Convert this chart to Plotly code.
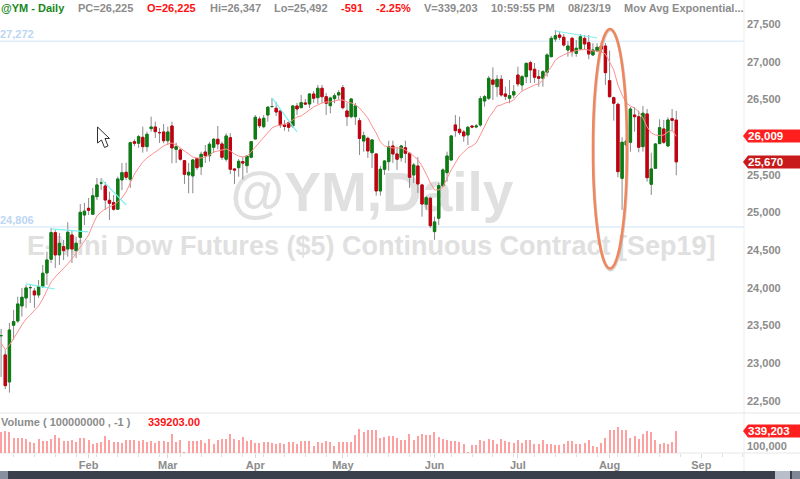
import plotly.graph_objects as go

open_ = [23364,23108,22749,23502,23559,23758,23864,24001,23957,23904,24014,24196,24378,24731,24435,24545,24514,24700,24492,24669,
24965,25054,24975,25208,25390,25350,25160,25129,25041,25430,25532,25439,25938,25917,25996,25872,26111,26133,26058,26067,
25951,26146,25837,25828,25686,25496,25483,25713,25606,25801,25752,25864,25970,25908,25705,25991,25576,25593,25673,25620,
25731,25974,26239,26137,26292,26405,26381,26346,26160,26190,26146,26412,26389,26452,26438,26571,26522,26647,26535,26416,
26509,26558,26655,26346,26270,26270,26217,25947,25983,25792,25775,25284,25572,25673,25881,25775,25726,25858,25784,25496,
25616,25364,25107,25187,24744,24922,25354,25527,25695,26160,26103,26067,26027,26146,26133,26160,26478,26514,26757,26668,
26766,26571,26514,26558,26823,26691,26801,26986,26899,26801,26779,26859,27066,27301,27354,27324,27155,27310,27111,27168,
27310,27252,27089,27142,27208,27208,26748,26522,26434,25452,25894,25930,26292,26270,25872,26306,25373,25585,25912,26107,
25881,26243,26225]
high = [23453,23170,23532,23705,23881,23997,24037,24037,23997,24103,24302,24478,24793,24766,24727,24634,24869,24766,24677,25111,
25125,25191,25324,25456,25456,25403,25275,25231,25474,25655,25659,25938,25970,26027,26137,26071,26270,26204,26120,26173,
26137,26204,25925,25850,25695,25655,25709,25722,25805,25894,25938,25987,26146,25938,26050,26050,25589,25709,25739,25762,
25947,26292,26270,26292,26412,26518,26465,26372,26226,26204,26425,26452,26558,26505,26584,26611,26691,26691,26584,26535,
26580,26624,26691,26452,26518,26452,26253,26071,26005,25974,25788,25616,25695,25951,25951,25872,25894,25951,25801,25655,
25735,25380,25218,25208,24943,25390,25585,25805,26020,26292,26270,26093,26146,26160,26173,26545,26558,26810,26925,26823,
26823,26668,26757,26691,26933,26823,26986,27013,26982,26890,26890,27111,27341,27420,27398,27367,27274,27331,27288,27367,
27354,27354,27244,27244,27261,27248,27146,26535,26456,25996,26040,26399,26395,26350,26412,26372,25792,25917,26235,26226,
26262,26372,26347]
low = [22816,22656,22607,23307,23532,23616,23731,23798,23731,23864,23997,24037,24328,24262,24302,24368,24412,24328,24395,24583,
24833,24965,24965,25164,25297,25031,24899,25023,25031,25297,25430,25324,25881,25855,25792,25805,26071,25987,25921,25917,
25894,25651,25655,25686,25377,25253,25253,25563,25496,25655,25673,25788,25837,25695,25673,25509,25377,25474,25439,25523,
25718,25970,26120,26116,26204,26385,26279,26120,26084,26071,26120,26292,26385,26425,26385,26452,26438,26448,26292,26315,
26448,26492,26368,26146,26249,26160,25762,25805,25722,25589,25222,25222,25496,25553,25655,25563,25673,25655,25324,25390,
25257,24943,25032,24793,24634,24833,25341,25407,25686,26004,26027,25938,25894,26116,26116,26137,26403,26491,26491,26535,
26535,26491,26448,26514,26668,26615,26713,26717,26717,26668,26668,26801,27058,27265,27288,27199,27066,27066,27066,27155,
27155,27032,27075,27132,27128,26691,26525,26217,25466,25032,25394,25805,26071,25797,25805,25407,25231,25580,25908,25908,
25872,26071,25492]
close = [23364,22700,23439,23550,23784,23873,23997,24001,23904,24014,24192,24368,24731,24435,24590,24492,24736,24514,24590,25001,
25016,25028,25221,25364,25390,25164,25121,25041,25443,25527,25466,25925,25917,26004,25872,26036,26133,26071,26058,25951,
26067,25855,25872,25705,25505,25532,25695,25593,25771,25752,25904,25970,25908,25731,26014,25572,25563,25678,25655,25748,
25938,26262,26150,26249,26395,26405,26332,26160,26140,26129,26412,26372,26456,26438,26571,26514,26647,26535,26448,26518,
26549,26588,26389,26270,26505,26412,25981,26018,25815,25961,25284,25572,25682,25872,25775,25705,25881,25784,25466,25629,
25377,25111,25195,24823,24873,25354,25563,25748,26014,26084,26058,26014,26129,26133,26146,26509,26535,26779,26700,26766,
26558,26541,26549,26602,26704,26801,26978,26890,26793,26779,26867,27089,27310,27345,27324,27221,27208,27132,27178,27331,
27235,27102,27155,27191,27168,26854,26535,26448,25540,25930,25947,26372,26270,25864,26315,25460,25576,25908,26124,25930,
26226,26222,25670]
ema = [23267,23174,23240,23320,23413,23506,23585,23638,23692,23758,23851,23970,24076,24143,24196,24262,24315,24382,24461,24554,
24620,24700,24833,24952,25005,25045,25072,25098,25138,25191,25271,25390,25509,25589,25669,25722,25762,25801,25841,25881,
25908,25921,25894,25855,25815,25775,25735,25722,25722,25735,25762,25801,25815,25828,25841,25815,25775,25748,25735,25748,
25801,25868,25934,26000,26067,26120,26146,26160,26166,26186,26226,26266,26279,26319,26359,26399,26425,26452,26465,26465,
26478,26491,26491,26465,26452,26425,26385,26319,26253,26146,26054,25934,25881,25868,25855,25855,25855,25828,25788,25748,
25695,25616,25509,25390,25297,25297,25337,25456,25563,25655,25748,25801,25855,25881,25921,26027,26146,26253,26332,26412,
26425,26452,26465,26491,26558,26611,26637,26664,26691,26704,26757,26863,26929,27022,27062,27089,27115,27128,27148,27155,
27162,27155,27142,27142,27128,27102,26996,26890,26691,26558,26452,26412,26385,26332,26253,26133,26054,26027,26020,26027,
26067,26093,26009]
volume = [323000,334000,323000,236000,236000,236000,221000,169000,154000,221000,180000,190000,210000,272000,236000,180000,190000,195000,169000,236000,
231000,195000,144000,159000,164000,262000,205000,169000,164000,149000,205000,205000,195000,180000,195000,169000,185000,159000,180000,180000,
169000,287000,169000,195000,5000,180000,190000,190000,195000,159000,210000,133000,195000,221000,221000,287000,210000,195000,246000,190000,
195000,154000,154000,175000,175000,154000,133000,154000,133000,169000,169000,133000,185000,180000,180000,113000,164000,154000,190000,169000,
113000,175000,175000,164000,164000,272000,370000,323000,359000,359000,359000,236000,246000,262000,262000,236000,195000,195000,298000,195000,
257000,298000,272000,272000,318000,246000,210000,195000,190000,185000,175000,144000,10000,118000,118000,195000,190000,210000,200000,133000,
210000,180000,169000,154000,195000,154000,195000,195000,133000,144000,205000,139000,139000,118000,128000,133000,185000,190000,139000,133000,
159000,195000,108000,98000,154000,236000,354000,359000,395000,359000,349000,231000,257000,210000,287000,339000,323000,195000,144000,154000,
139000,175000,339203]
bar_index = list(range(len(close)))

month_positions = [21, 40, 61, 82, 104, 124, 146, 168]
month_labels = ["Feb", "Mar", "Apr", "May", "Jun", "Jul", "Aug", "Sep"]
price_ticks = [22500, 23000, 23500, 24000, 24500, 25000, 25500, 26000, 26500, 27000, 27500]
price_tick_labels = ["22,500", "23,000", "23,500", "24,000", "24,500", "25,000", "25,500", "", "26,500", "27,000", "27,500"]
support_levels = [27272, 24806]
trend_x = [[6, 12.9], [12, 20.9], [24.2, 30], [65, 71], [133, 143]]
trend_y = [[24050, 23983], [24780, 24740], [25430, 25098], [26518, 26067], [27407, 27314]]

W, H = 800, 479
L, R, T, B = 0, 56, 16, 26
PW, PH = W - L - R, H - T - B
VOL_PX = 40
split = VOL_PX / PH
GREY = "#8c8c8c"
FONT = "Liberation Sans"
GREEN = "#0b7d12"
RED = "#c4000f"


def px(x):
    return (x - L) / PW


def py(y):
    return 1 - (y - T) / PH


price_range = [22337, 27606]
x_range = [-0.26, 178.25]

fig = go.Figure()

# watermark sits on the base subplot, so the candles cover it
fig.add_trace(go.Scatter(x=[89.0, 88.8], y=[25204, 24527], mode="text", xaxis="x", yaxis="y",
                         text=["@YM,Daily", "E-Mini Dow Futures ($5) Continuous Contract [Sep19]"],
                         textposition="middle center", hoverinfo="skip", showlegend=False,
                         textfont=dict(family=FONT, size=[55, 27], color="#e0e0e0", weight=700)))

# full range candle: wicks
fig.add_trace(go.Candlestick(x=bar_index, open=open_, high=high, low=low, close=close, xaxis="x", yaxis="y2",
                             whiskerwidth=0, showlegend=False, name="@YM",
                             increasing=dict(line=dict(color="#8a8a8a", width=1), fillcolor="#8a8a8a"),
                             decreasing=dict(line=dict(color="#8a8a8a", width=1), fillcolor="#8a8a8a")))
# bodies on top, coloured by direction
fig.add_trace(go.Candlestick(x=bar_index, open=open_, close=close, xaxis="x", yaxis="y2",
                             high=[max(o, c) for o, c in zip(open_, close)],
                             low=[min(o, c) for o, c in zip(open_, close)],
                             whiskerwidth=0, showlegend=False, name="body",
                             increasing=dict(line=dict(color=GREEN, width=1), fillcolor=GREEN),
                             decreasing=dict(line=dict(color=RED, width=1), fillcolor=RED)))

fig.add_trace(go.Scatter(x=bar_index, y=ema, mode="lines", xaxis="x", yaxis="y2", showlegend=False,
                         line=dict(color="#ff9090", width=1), hoverinfo="skip"))
for tx, ty in zip(trend_x, trend_y):
    fig.add_trace(go.Scatter(x=tx, y=ty, mode="lines", xaxis="x", yaxis="y2", showlegend=False,
                             line=dict(color="#7fefef", width=1.2), hoverinfo="skip"))

fig.add_trace(go.Bar(x=bar_index, y=volume, xaxis="x", yaxis="y3", showlegend=False, width=0.28,
                     marker=dict(color="#ffa0a0", line=dict(width=0))))

shapes = []
for lvl in support_levels:
    shapes.append(dict(type="line", xref="paper", yref="y2", x0=0, x1=1, y0=lvl, y1=lvl,
                       line=dict(color="#cfe3f7", width=1), layer="below"))
# panel rules
for y in (413, 453):
    shapes.append(dict(type="line", xref="paper", yref="paper", x0=px(0), x1=px(800), y0=py(y), y1=py(y),
                       line=dict(color="#e6e6e6", width=1), layer="below"))
shapes.append(dict(type="line", xref="paper", yref="paper", x0=px(744), x1=px(744), y0=py(0), y1=py(471),
                   line=dict(color="#ececec", width=1), layer="below"))
# hand-drawn ellipse with its soft shadow
shapes.append(dict(type="circle", xref="paper", yref="paper", x0=px(593.5), x1=px(627.5), y0=py(270), y1=py(30),
                   line=dict(color="rgba(90,90,90,0.25)", width=3), layer="above"))
shapes.append(dict(type="circle", xref="paper", yref="paper", x0=px(593), x1=px(627), y0=py(268.5), y1=py(29),
                   line=dict(color="#f0875c", width=2.6), layer="above"))


def pixel_path(points):
    return "M " + " L ".join(f"{px(a):.5f},{py(b):.5f}" for a, b in points) + " Z"


# mouse cursor
shapes.append(dict(type="path", xref="paper", yref="paper", layer="above",
                   path=pixel_path([(97.5, 127), (97.5, 143), (101.5, 140), (104.5, 147.5), (108, 146), (105, 138.5), (109.5, 138.5)]),
                   fillcolor="#ffffff", line=dict(color="#303030", width=1)))
# bottom scrollbar
shapes.append(dict(type="rect", xref="paper", yref="paper", x0=px(0), x1=px(800), y0=py(479), y1=py(471),
                   fillcolor="#3a404c", line=dict(width=0), layer="above"))
shapes.append(dict(type="rect", xref="paper", yref="paper", x0=px(0), x1=px(8), y0=py(479), y1=py(471),
                   fillcolor="#8890a0", line=dict(width=0), layer="above"))
shapes.append(dict(type="rect", xref="paper", yref="paper", x0=px(775), x1=px(790), y0=py(479), y1=py(471),
                   fillcolor="#b9bfca", line=dict(width=0), layer="above"))
shapes.append(dict(type="rect", xref="paper", yref="paper", x0=px(792), x1=px(800), y0=py(479), y1=py(471),
                   fillcolor="#808898", line=dict(width=0), layer="above"))

annotations = []


def label(x, y, text, color=GREY, size=11, anchor="left"):
    annotations.append(dict(xref="paper", yref="paper", x=px(x), y=py(y), text=text, showarrow=False,
                            xanchor=anchor, yanchor="middle", borderpad=0, align="left",
                            font=dict(family=FONT, size=size, color=color, weight=700)))


def price_tag(y, text, color):
    shapes.append(dict(type="path", xref="paper", yref="paper", layer="above",
                       path=pixel_path([(743, y), (748, y - 6.5), (800, y - 6.5), (800, y + 6.5), (748, y + 6.5)]),
                       fillcolor=color, line=dict(width=0)))
    label(747, y, text, "#ffffff", 11.5)


price_tag(136, "26,009", "#ff1f1f")
price_tag(162, "25,670", "#c81a1a")
price_tag(431, "339,203", "#ff1f1f")

label(0, 8, "@YM - Daily", "#17871c", 11)
label(77, 8, "PC=26,225")
label(146, 8, "O=26,225", "#ff1010")
label(209, 8, "Hi=26,347")
label(273, 8, "Lo=25,492")
label(340, 8, "-591", "#ff1010")
label(375, 8, "-2.25%", "#ff1010")
label(423, 8, "V=339,203")
label(490, 8, "10:59:55 PM")
label(567, 8, "08/23/19")
label(623, 8, "Mov Avg Exponential...")
label(-1, 34, "27,272", "#bcd6f3")
label(-1, 220, "24,806", "#bcd6f3")
label(0, 422, "Volume ( 100000000 , -1 )")
label(147, 422, "339203.00", "#ff1010")

tick_font = dict(family=FONT, size=11, color=GREY, weight=700)
fig.update_layout(
    width=W, height=H, margin=dict(l=L, r=R, t=T, b=B, pad=0), autosize=False,
    paper_bgcolor="#ffffff", plot_bgcolor="#ffffff", showlegend=False,
    boxgap=0.2, bargap=0, shapes=shapes, annotations=annotations,
    xaxis=dict(domain=[0, 1], range=x_range, anchor="y3", tickmode="array", tickvals=month_positions,
               ticktext=month_labels, tickfont=tick_font, ticks="outside", ticklen=4, tickcolor="#d8d8d8",
               ticklabelstandoff=-2, showgrid=False, zeroline=False, showline=False, rangeslider=dict(visible=False),
               minor=dict(tick0=3, dtick=5, ticks="outside", ticklen=3, tickcolor="#e0e0e0", showgrid=False)),
    yaxis=dict(domain=[split, 1], range=price_range, visible=False, fixedrange=True),
    yaxis2=dict(domain=[split, 1], range=price_range, overlaying="y", side="right", anchor="x", tickmode="array",
                tickvals=price_ticks, ticktext=price_tick_labels, tickfont=tick_font, ticks="", ticklabelstandoff=2,
                showgrid=False, zeroline=False, showline=False),
    yaxis3=dict(domain=[0, split], range=[0, 616000], side="right", anchor="x", tickmode="array",
                tickvals=[100000], ticktext=["100,000"], tickfont=tick_font, ticks="", ticklabelstandoff=2,
                showgrid=False, zeroline=False, showline=False),
)

fig.write_html("out.html", config={"displayModeBar": False},
               post_script="document.body.style.margin='0';document.documentElement.style.overflow='hidden';")
